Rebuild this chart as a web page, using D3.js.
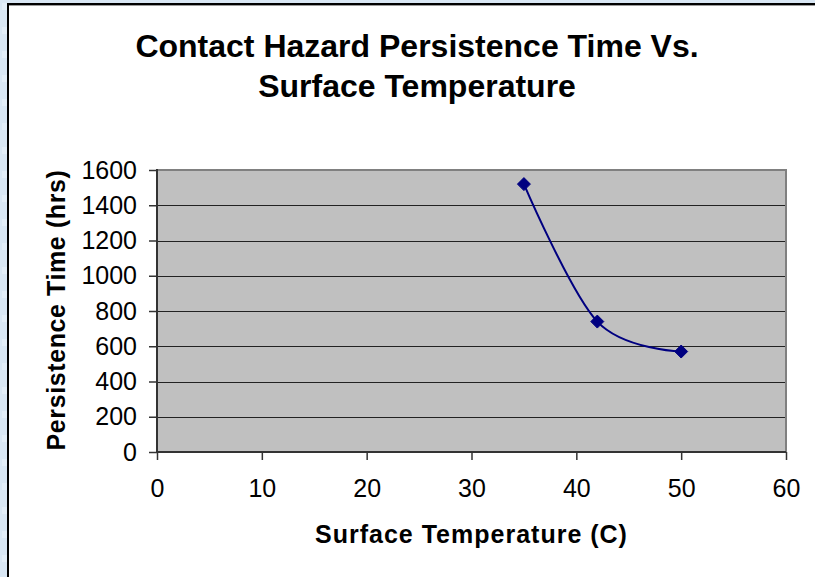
<!DOCTYPE html>
<html>
<head>
<meta charset="utf-8">
<script src="https://cdn.jsdelivr.net/npm/d3@7"></script>
<style>
  html, body { margin: 0; padding: 0; background: #d9e7f4; }
  svg { display: block; }
  text { font-family: "Liberation Sans", Arial, sans-serif; fill: #000; }
</style>
</head>
<body>
<svg id="chart" width="815" height="577"></svg>
<script>
// Surface temperature (C) and contact hazard persistence time (hrs)
const temperatures = [35, 42, 50];
const persistenceHours = [1520, 740, 570];
const xTicks = [0, 10, 20, 30, 40, 50, 60];
const yTicks = [0, 200, 400, 600, 800, 1000, 1200, 1400, 1600];
const titleLines = ["Contact Hazard Persistence Time Vs.", "Surface Temperature"];
const xTitle = "Surface Temperature (C)";
const yTitle = "Persistence Time (hrs)";

const svg = d3.select("#chart");
const W = 815, H = 577;

// light blue backdrop with a faint mottled texture
const defs = svg.append("defs");
const pat = defs.append("pattern").attr("id", "bgtex")
  .attr("width", 24).attr("height", 24).attr("patternUnits", "userSpaceOnUse");
pat.append("rect").attr("width", 24).attr("height", 24).attr("fill", "#d9e7f4");
pat.append("rect").attr("x", 2).attr("y", 3).attr("width", 9).attr("height", 7).attr("fill", "#e3eef8");
pat.append("rect").attr("x", 13).attr("y", 14).attr("width", 8).attr("height", 6).attr("fill", "#cfdfee");
svg.append("rect").attr("width", W).attr("height", H).attr("fill", "url(#bgtex)");

// chart frame (runs past the right and bottom edges)
svg.append("rect")
  .attr("x", 8).attr("y", 4).attr("width", W + 20).attr("height", H + 20)
  .attr("fill", "#fff").attr("stroke", "#000").attr("stroke-width", 2);
svg.append("line").attr("x1", 9).attr("x2", W).attr("y1", 5.5).attr("y2", 5.5)
  .attr("stroke", "#9a9a9a").attr("stroke-width", 1);

const plot = { left: 157, right: 786, top: 170, bottom: 452 };

const x = d3.scaleLinear().domain([0, 60]).range([plot.left, plot.right]);
const y = d3.scaleLinear().domain([0, 1600]).range([plot.bottom, plot.top]);

// plot area
svg.append("rect")
  .attr("x", plot.left).attr("y", plot.top)
  .attr("width", plot.right - plot.left).attr("height", plot.bottom - plot.top)
  .attr("fill", "#c0c0c0");

// horizontal gridlines
svg.append("g").selectAll("line")
  .data(yTicks.filter(d => d > 0 && d < 1600))
  .join("line")
  .attr("x1", plot.left).attr("x2", plot.right)
  .attr("y1", d => Math.round(y(d)) + 0.5).attr("y2", d => Math.round(y(d)) + 0.5)
  .attr("stroke", "#222").attr("stroke-width", 1);

// top and right border of the plot area
svg.append("path")
  .attr("d", `M${plot.left},${plot.top}H${plot.right}V${plot.bottom}`)
  .attr("fill", "none").attr("stroke", "#808080").attr("stroke-width", 2);

// axes
const yAxis = d3.axisLeft(y).tickValues(yTicks).tickSize(8).tickPadding(12).tickFormat(d3.format("d"));
const xAxis = d3.axisBottom(x).tickValues(xTicks).tickSize(8).tickPadding(19).tickFormat(d3.format("d"));

const gy = svg.append("g").attr("transform", `translate(${plot.left},0)`).call(yAxis);
const gx = svg.append("g").attr("transform", `translate(0,${plot.bottom})`).call(xAxis);

[gx, gy].forEach(g => {
  g.attr("font-size", 25).attr("font-family", "Liberation Sans, Arial, sans-serif");
  g.select(".domain").attr("stroke", "#333").attr("stroke-width", 2);
  g.selectAll(".tick line").attr("stroke", "#333").attr("stroke-width", 1.5);
  g.selectAll(".tick text").attr("fill", "#000");
});
gy.select(".domain").attr("d", `M0,${plot.top - 1}V${plot.bottom}`);
gx.select(".domain").attr("d", `M${plot.left},0H${plot.right}`);

// smoothed series line
const pts = temperatures.map((t, i) => [x(t), y(persistenceHours[i])]);
svg.append("path")
  .attr("d", d3.line().curve(d3.curveCatmullRom.alpha(0))(pts))
  .attr("fill", "none").attr("stroke", "#000080").attr("stroke-width", 2);

// diamond markers
svg.append("g").selectAll("path")
  .data(pts)
  .join("path")
  .attr("transform", d => `translate(${d[0]},${d[1]})`)
  .attr("d", "M0,-6.5L6.5,0L0,6.5L-6.5,0Z")
  .attr("fill", "#000080").attr("stroke", "#000080").attr("stroke-width", 1);

// titles
svg.append("g").selectAll("text")
  .data(titleLines)
  .join("text")
  .attr("x", 417).attr("y", (d, i) => 57 + i * 40)
  .attr("text-anchor", "middle")
  .attr("font-size", 32).attr("font-weight", "bold")
  .text(d => d);

svg.append("text")
  .attr("x", (plot.left + plot.right) / 2).attr("y", 543)
  .attr("text-anchor", "middle")
  .attr("font-size", 25).attr("font-weight", "bold")
  .attr("letter-spacing", 1)
  .text(xTitle);

svg.append("text")
  .attr("transform", `translate(65,310) rotate(-90)`)
  .attr("text-anchor", "middle")
  .attr("font-size", 25).attr("font-weight", "bold")
  .attr("letter-spacing", 0.6)
  .text(yTitle);
</script>
</body>
</html>
